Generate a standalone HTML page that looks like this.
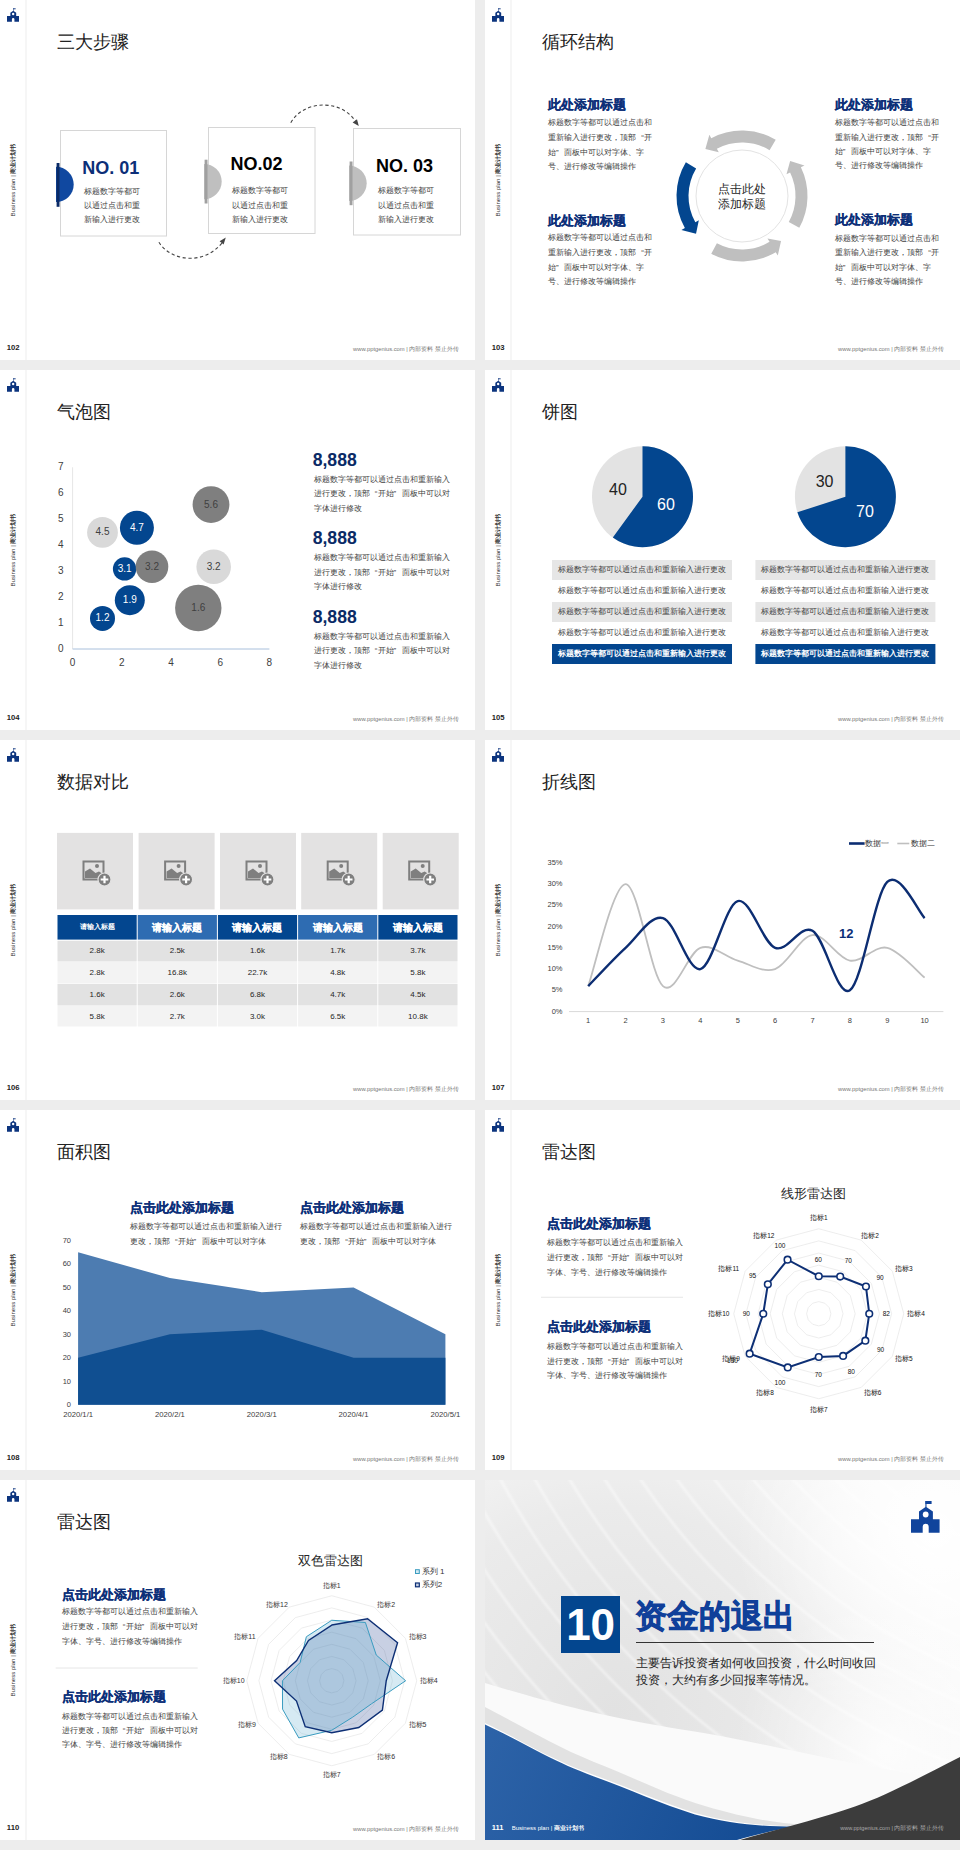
<!DOCTYPE html><html><head><meta charset="utf-8"><style>
*{margin:0;padding:0;box-sizing:border-box}
html,body{width:960px;height:1850px;background:#ededed;overflow:hidden;font-family:'Liberation Sans', sans-serif}
.slide{position:absolute;width:475px;height:360px;background:#fff;overflow:hidden}
.slide div{position:absolute;white-space:nowrap}
.vline{left:25px;top:0;width:1.5px;height:360px;background:#f6f6f6}
.vtext{left:13.3px;top:180.3px;font-size:6.1px;color:#333;transform:translate(-50%,-50%) rotate(-90deg);line-height:1}
.pnum{left:6.8px;top:343.3px;font-size:7.7px;font-weight:bold;color:#222;line-height:10px}
.foot{right:16px;top:344.8px;font-size:5.8px;color:#777;line-height:9px}
.title{left:57px;top:30px;font-size:18px;color:#222;line-height:24px}
</style></head><body><div class="slide" style="left:0px;top:0px"><div class="vline"></div><svg style="position:absolute;left:7px;top:8px" width="12" height="14" viewBox="0 0 28.6 31.7">
<g fill="#0c347e"><rect x="14.4" y="0" width="6.2" height="2.2"/><rect x="14.4" y="0" width="1.1" height="6.5"/>
<path d="M0 18.2H8V10.4L14.9 5.7 21.9 10.4V18.2H28.6V31.7H17.7V25.8A3 3 0 0 0 11.7 25.8V31.7H0Z"/></g>
<circle cx="14.7" cy="13.5" r="2.9" fill="#fff"/></svg><div class="vtext">Business plan | <b>商业计划书</b></div><div class="pnum">102</div><div class="foot">www.pptgenius.com | 内部资料 禁止外传</div><div class="title">三大步骤</div><svg style="position:absolute;left:0;top:0" width="475" height="360"><rect x="60.5" y="130.5" width="106" height="105.5" fill="#fff" stroke="#d6d6d6" stroke-width="1"/><path d="M56.0 166.70000000000002A17.7 17.7 0 0 1 56.0 202.1Z" fill="#1048a0" transform="translate(0,0)"/><rect x="56.6" y="163" width="2.9" height="43.80000000000001" fill="#0a2a66"/><rect x="208.5" y="127.5" width="106.5" height="106" fill="#fff" stroke="#d6d6d6" stroke-width="1"/><path d="M204.0 163.9A17.7 17.7 0 0 1 204.0 199.29999999999998Z" fill="#bfbfbf" transform="translate(0,0)"/><rect x="204.6" y="159.7" width="2.9" height="43.80000000000001" fill="#a0a0a0"/><rect x="353.5" y="128.5" width="107" height="106.5" fill="#fff" stroke="#d6d6d6" stroke-width="1"/><path d="M349.0 165.60000000000002A17.7 17.7 0 0 1 349.0 201.0Z" fill="#bfbfbf" transform="translate(0,0)"/><rect x="349.6" y="161.5" width="2.9" height="43.69999999999999" fill="#a0a0a0"/><path d="M158.9 242.3 C165 252 177 258.3 190.3 258.3 C203 258.3 214 252.5 222 243" fill="none" stroke="#444" stroke-width="1.1" stroke-dasharray="3.2 2.6"/><path d="M225.8 237.6 L219.6 241.2 L223.6 244.6Z" fill="#444"/><path d="M290.8 122.7 C298 110 312 104.6 325 105.1 C339 105.6 349 112 355.5 121" fill="none" stroke="#444" stroke-width="1.1" stroke-dasharray="3.2 2.6"/><path d="M358.8 126 L352.6 122.6 L357 119.2Z" fill="#444"/></svg><div style="left:82.3px;top:157.6px;font-size:18px;line-height:20px;font-weight:bold;color:#0c2f78">NO. 01</div><div style="left:83.5px;top:185.6px;font-size:8px;line-height:12px;color:#404040">标题数字等都可</div><div style="left:83.5px;top:200.0px;font-size:8px;line-height:12px;color:#404040">以通过点击和重</div><div style="left:83.5px;top:214.2px;font-size:8px;line-height:12px;color:#404040">新输入进行更改</div><div style="left:230.4px;top:154.29999999999998px;font-size:18px;line-height:20px;font-weight:bold;color:#000">NO.02</div><div style="left:232px;top:184.9px;font-size:8px;line-height:12px;color:#404040">标题数字等都可</div><div style="left:232px;top:199.79999999999998px;font-size:8px;line-height:12px;color:#404040">以通过点击和重</div><div style="left:232px;top:214.1px;font-size:8px;line-height:12px;color:#404040">新输入进行更改</div><div style="left:376px;top:155.6px;font-size:18px;line-height:20px;font-weight:bold;color:#000">NO. 03</div><div style="left:377.8px;top:184.9px;font-size:8px;line-height:12px;color:#404040">标题数字等都可</div><div style="left:377.8px;top:199.79999999999998px;font-size:8px;line-height:12px;color:#404040">以通过点击和重</div><div style="left:377.8px;top:214.1px;font-size:8px;line-height:12px;color:#404040">新输入进行更改</div></div><div class="slide" style="left:485px;top:0px"><div class="vline"></div><svg style="position:absolute;left:7px;top:8px" width="12" height="14" viewBox="0 0 28.6 31.7">
<g fill="#0c347e"><rect x="14.4" y="0" width="6.2" height="2.2"/><rect x="14.4" y="0" width="1.1" height="6.5"/>
<path d="M0 18.2H8V10.4L14.9 5.7 21.9 10.4V18.2H28.6V31.7H17.7V25.8A3 3 0 0 0 11.7 25.8V31.7H0Z"/></g>
<circle cx="14.7" cy="13.5" r="2.9" fill="#fff"/></svg><div class="vtext">Business plan | <b>商业计划书</b></div><div class="pnum">103</div><div class="foot">www.pptgenius.com | 内部资料 禁止外传</div><div class="title">循环结构</div><svg style="position:absolute;left:0;top:0" width="475" height="360"><circle cx="257" cy="196" r="46" fill="#fff" stroke="#e3e3e3" stroke-width="1"/><path d="M290.73 139.86A65.5 65.5 0 0 0 226.25 138.17L224.37 134.64L220.37 149.11L233.76 152.29L231.88 148.76A53.5 53.5 0 0 1 284.55 150.14Z" fill="#bfbfbf"/><path d="M200.86 162.27A65.5 65.5 0 0 0 199.88 228.05L196.39 230.01L211.02 233.77L213.83 220.22L210.34 222.18A53.5 53.5 0 0 1 211.14 168.45Z" fill="#03468f"/><path d="M226.25 253.83A65.5 65.5 0 0 0 290.73 252.14L292.80 255.57L296.04 240.91L282.49 238.43L284.55 241.86A53.5 53.5 0 0 1 231.88 243.24Z" fill="#bfbfbf"/><path d="M314.29 227.76A65.5 65.5 0 0 0 315.87 167.29L319.47 165.53L305.14 161.03L301.49 174.30L305.09 172.55A53.5 53.5 0 0 1 303.79 221.94Z" fill="#bfbfbf"/></svg><div style="left:227px;top:181px;width:60px;text-align:center;font-size:12px;line-height:16px;color:#262626">点击此处</div><div style="left:227px;top:196.4px;width:60px;text-align:center;font-size:12px;line-height:16px;color:#262626">添加标题</div><div style="left:63px;top:96.2px;font-size:13px;line-height:18px;font-weight:bold;color:#0c2f78;-webkit-text-stroke:0.2px #0c2f78">此处添加标题</div><div style="left:63px;top:116.89999999999999px;font-size:8px;line-height:12px;color:#404040;">标题数字等都可以通过点击和</div><div style="left:63px;top:131.9px;font-size:8px;line-height:12px;color:#404040;">重新输入进行更改，顶部<span style="display:inline-block;width:1em;text-align:right">“</span>开</div><div style="left:63px;top:146.7px;font-size:8px;line-height:12px;color:#404040;">始<span style="display:inline-block;width:1em;text-align:left">”</span>面板中可以对字体、字</div><div style="left:63px;top:161.1px;font-size:8px;line-height:12px;color:#404040;">号、进行修改等编辑操作</div><div style="left:63px;top:211.60000000000002px;font-size:13px;line-height:18px;font-weight:bold;color:#0c2f78;-webkit-text-stroke:0.2px #0c2f78">此处添加标题</div><div style="left:63px;top:232.4px;font-size:8px;line-height:12px;color:#404040;">标题数字等都可以通过点击和</div><div style="left:63px;top:246.79999999999998px;font-size:8px;line-height:12px;color:#404040;">重新输入进行更改，顶部<span style="display:inline-block;width:1em;text-align:right">“</span>开</div><div style="left:63px;top:261.5px;font-size:8px;line-height:12px;color:#404040;">始<span style="display:inline-block;width:1em;text-align:left">”</span>面板中可以对字体、字</div><div style="left:63px;top:276.0px;font-size:8px;line-height:12px;color:#404040;">号、进行修改等编辑操作</div><div style="left:349.8px;top:96.0px;font-size:13px;line-height:18px;font-weight:bold;color:#0c2f78;-webkit-text-stroke:0.2px #0c2f78">此处添加标题</div><div style="left:349.8px;top:116.8px;font-size:8px;line-height:12px;color:#404040;">标题数字等都可以通过点击和</div><div style="left:349.8px;top:131.5px;font-size:8px;line-height:12px;color:#404040;">重新输入进行更改，顶部<span style="display:inline-block;width:1em;text-align:right">“</span>开</div><div style="left:349.8px;top:145.9px;font-size:8px;line-height:12px;color:#404040;">始<span style="display:inline-block;width:1em;text-align:left">”</span>面板中可以对字体、字</div><div style="left:349.8px;top:160.29999999999998px;font-size:8px;line-height:12px;color:#404040;">号、进行修改等编辑操作</div><div style="left:349.8px;top:211.20000000000002px;font-size:13px;line-height:18px;font-weight:bold;color:#0c2f78;-webkit-text-stroke:0.2px #0c2f78">此处添加标题</div><div style="left:349.8px;top:232.6px;font-size:8px;line-height:12px;color:#404040;">标题数字等都可以通过点击和</div><div style="left:349.8px;top:247.1px;font-size:8px;line-height:12px;color:#404040;">重新输入进行更改，顶部<span style="display:inline-block;width:1em;text-align:right">“</span>开</div><div style="left:349.8px;top:261.70000000000005px;font-size:8px;line-height:12px;color:#404040;">始<span style="display:inline-block;width:1em;text-align:left">”</span>面板中可以对字体、字</div><div style="left:349.8px;top:276.0px;font-size:8px;line-height:12px;color:#404040;">号、进行修改等编辑操作</div></div><div class="slide" style="left:0px;top:370px"><div class="vline"></div><svg style="position:absolute;left:7px;top:8px" width="12" height="14" viewBox="0 0 28.6 31.7">
<g fill="#0c347e"><rect x="14.4" y="0" width="6.2" height="2.2"/><rect x="14.4" y="0" width="1.1" height="6.5"/>
<path d="M0 18.2H8V10.4L14.9 5.7 21.9 10.4V18.2H28.6V31.7H17.7V25.8A3 3 0 0 0 11.7 25.8V31.7H0Z"/></g>
<circle cx="14.7" cy="13.5" r="2.9" fill="#fff"/></svg><div class="vtext">Business plan | <b>商业计划书</b></div><div class="pnum">104</div><div class="foot">www.pptgenius.com | 内部资料 禁止外传</div><div class="title">气泡图</div><svg style="position:absolute;left:0;top:0" width="475" height="360"><line x1="72.6" y1="97.28" x2="72.6" y2="279" stroke="#e6e6e6" stroke-width="1"/><line x1="72.6" y1="279" x2="269.4" y2="279" stroke="#a9c0dc" stroke-width="1"/><circle cx="102.5" cy="248.4" r="12.5" fill="#03468f"/><circle cx="129.8" cy="230.2" r="15" fill="#03468f"/><circle cx="124.6" cy="198.9" r="11.7" fill="#03468f"/><circle cx="136.9" cy="157.8" r="17" fill="#03468f"/><circle cx="152" cy="196.8" r="16.3" fill="#7f7f7f"/><circle cx="211" cy="134.6" r="18.4" fill="#7f7f7f"/><circle cx="198.3" cy="238" r="23.2" fill="#7f7f7f"/><circle cx="102.5" cy="162.4" r="15.4" fill="#d9d9d9"/><circle cx="213.7" cy="196.8" r="17.3" fill="#d9d9d9"/></svg><div style="left:87.5px;top:242.4px;width:30px;text-align:center;font-size:10px;line-height:12px;color:#fff;">1.2</div><div style="left:114.80000000000001px;top:224.2px;width:30px;text-align:center;font-size:10px;line-height:12px;color:#fff;">1.9</div><div style="left:109.6px;top:192.9px;width:30px;text-align:center;font-size:10px;line-height:12px;color:#fff;">3.1</div><div style="left:121.9px;top:151.8px;width:30px;text-align:center;font-size:10px;line-height:12px;color:#fff;">4.7</div><div style="left:137.0px;top:190.8px;width:30px;text-align:center;font-size:10px;line-height:12px;color:#404040;">3.2</div><div style="left:196.0px;top:128.6px;width:30px;text-align:center;font-size:10px;line-height:12px;color:#404040;">5.6</div><div style="left:183.3px;top:232.0px;width:30px;text-align:center;font-size:10px;line-height:12px;color:#404040;">1.6</div><div style="left:87.5px;top:156.4px;width:30px;text-align:center;font-size:10px;line-height:12px;color:#404040;">4.5</div><div style="left:198.7px;top:190.8px;width:30px;text-align:center;font-size:10px;line-height:12px;color:#404040;">3.2</div><div style="left:53.8px;top:273.0px;width:14px;text-align:center;font-size:10px;line-height:12px;color:#404040;">0</div><div style="left:53.8px;top:247.04px;width:14px;text-align:center;font-size:10px;line-height:12px;color:#404040;">1</div><div style="left:53.8px;top:221.07999999999998px;width:14px;text-align:center;font-size:10px;line-height:12px;color:#404040;">2</div><div style="left:53.8px;top:195.12px;width:14px;text-align:center;font-size:10px;line-height:12px;color:#404040;">3</div><div style="left:53.8px;top:169.16px;width:14px;text-align:center;font-size:10px;line-height:12px;color:#404040;">4</div><div style="left:53.8px;top:143.2px;width:14px;text-align:center;font-size:10px;line-height:12px;color:#404040;">5</div><div style="left:53.8px;top:117.24000000000001px;width:14px;text-align:center;font-size:10px;line-height:12px;color:#404040;">6</div><div style="left:53.8px;top:91.28px;width:14px;text-align:center;font-size:10px;line-height:12px;color:#404040;">7</div><div style="left:65.6px;top:286.7px;width:14px;text-align:center;font-size:10px;line-height:12px;color:#404040;">0</div><div style="left:114.8px;top:286.7px;width:14px;text-align:center;font-size:10px;line-height:12px;color:#404040;">2</div><div style="left:164.0px;top:286.7px;width:14px;text-align:center;font-size:10px;line-height:12px;color:#404040;">4</div><div style="left:213.20000000000002px;top:286.7px;width:14px;text-align:center;font-size:10px;line-height:12px;color:#404040;">6</div><div style="left:262.4px;top:286.7px;width:14px;text-align:center;font-size:10px;line-height:12px;color:#404040;">8</div><div style="left:312.7px;top:79.8px;font-size:17.6px;line-height:20px;font-weight:bold;color:#0a2a66">8,888</div><div style="left:313.5px;top:103.8px;font-size:8px;line-height:12px;color:#404040;">标题数字等都可以通过点击和重新输入</div><div style="left:313.5px;top:118.39999999999999px;font-size:8px;line-height:12px;color:#404040;">进行更改，顶部<span style="display:inline-block;width:1em;text-align:right">“</span>开始<span style="display:inline-block;width:1em;text-align:left">”</span>面板中可以对</div><div style="left:313.5px;top:133.0px;font-size:8px;line-height:12px;color:#404040;">字体进行修改</div><div style="left:312.7px;top:158.2px;font-size:17.6px;line-height:20px;font-weight:bold;color:#0a2a66">8,888</div><div style="left:313.5px;top:182.20000000000002px;font-size:8px;line-height:12px;color:#404040;">标题数字等都可以通过点击和重新输入</div><div style="left:313.5px;top:196.79999999999998px;font-size:8px;line-height:12px;color:#404040;">进行更改，顶部<span style="display:inline-block;width:1em;text-align:right">“</span>开始<span style="display:inline-block;width:1em;text-align:left">”</span>面板中可以对</div><div style="left:313.5px;top:211.4px;font-size:8px;line-height:12px;color:#404040;">字体进行修改</div><div style="left:312.7px;top:236.6px;font-size:17.6px;line-height:20px;font-weight:bold;color:#0a2a66">8,888</div><div style="left:313.5px;top:260.6px;font-size:8px;line-height:12px;color:#404040;">标题数字等都可以通过点击和重新输入</div><div style="left:313.5px;top:275.20000000000005px;font-size:8px;line-height:12px;color:#404040;">进行更改，顶部<span style="display:inline-block;width:1em;text-align:right">“</span>开始<span style="display:inline-block;width:1em;text-align:left">”</span>面板中可以对</div><div style="left:313.5px;top:289.80000000000007px;font-size:8px;line-height:12px;color:#404040;">字体进行修改</div></div><div class="slide" style="left:485px;top:370px"><div class="vline"></div><svg style="position:absolute;left:7px;top:8px" width="12" height="14" viewBox="0 0 28.6 31.7">
<g fill="#0c347e"><rect x="14.4" y="0" width="6.2" height="2.2"/><rect x="14.4" y="0" width="1.1" height="6.5"/>
<path d="M0 18.2H8V10.4L14.9 5.7 21.9 10.4V18.2H28.6V31.7H17.7V25.8A3 3 0 0 0 11.7 25.8V31.7H0Z"/></g>
<circle cx="14.7" cy="13.5" r="2.9" fill="#fff"/></svg><div class="vtext">Business plan | <b>商业计划书</b></div><div class="pnum">105</div><div class="foot">www.pptgenius.com | 内部资料 禁止外传</div><div class="title">饼图</div><svg style="position:absolute;left:0;top:0" width="475" height="360"><circle cx="157.5" cy="126.7" r="50.5" fill="#e3e3e3"/><path d="M157.5 126.7L157.5 76.2A50.5 50.5 0 1 1 127.82 167.56Z" fill="#03468f"/><circle cx="360.4" cy="126.7" r="50.5" fill="#e3e3e3"/><path d="M360.4 126.7L360.4 76.2A50.5 50.5 0 1 1 312.37 142.31Z" fill="#03468f"/><rect x="67" y="190" width="180" height="20" fill="#e6e6e6"/><rect x="67" y="232" width="180" height="20" fill="#e6e6e6"/><rect x="67" y="274" width="180" height="20" fill="#03468f"/><rect x="270.4" y="190" width="180" height="20" fill="#e6e6e6"/><rect x="270.4" y="232" width="180" height="20" fill="#e6e6e6"/><rect x="270.4" y="274" width="180" height="20" fill="#03468f"/></svg><div style="left:113.0px;top:110.6px;width:40px;text-align:center;font-size:16px;line-height:18px;color:#222;">40</div><div style="left:161.0px;top:126.0px;width:40px;text-align:center;font-size:16px;line-height:18px;color:#fff;">60</div><div style="left:319.6px;top:103.0px;width:40px;text-align:center;font-size:16px;line-height:18px;color:#222;">30</div><div style="left:360.0px;top:133.0px;width:40px;text-align:center;font-size:16px;line-height:18px;color:#fff;">70</div><div style="left:67.0px;top:194.0px;width:180px;text-align:center;font-size:8px;line-height:12px;color:#404040;">标题数字等都可以通过点击和重新输入进行更改</div><div style="left:67.0px;top:215.0px;width:180px;text-align:center;font-size:8px;line-height:12px;color:#404040;">标题数字等都可以通过点击和重新输入进行更改</div><div style="left:67.0px;top:236.0px;width:180px;text-align:center;font-size:8px;line-height:12px;color:#404040;">标题数字等都可以通过点击和重新输入进行更改</div><div style="left:67.0px;top:257.0px;width:180px;text-align:center;font-size:8px;line-height:12px;color:#404040;">标题数字等都可以通过点击和重新输入进行更改</div><div style="left:67.0px;top:278.0px;width:180px;text-align:center;font-size:8px;line-height:12px;color:#fff;font-weight:bold;">标题数字等都可以通过点击和重新输入进行更改</div><div style="left:270.4px;top:194.0px;width:180px;text-align:center;font-size:8px;line-height:12px;color:#404040;">标题数字等都可以通过点击和重新输入进行更改</div><div style="left:270.4px;top:215.0px;width:180px;text-align:center;font-size:8px;line-height:12px;color:#404040;">标题数字等都可以通过点击和重新输入进行更改</div><div style="left:270.4px;top:236.0px;width:180px;text-align:center;font-size:8px;line-height:12px;color:#404040;">标题数字等都可以通过点击和重新输入进行更改</div><div style="left:270.4px;top:257.0px;width:180px;text-align:center;font-size:8px;line-height:12px;color:#404040;">标题数字等都可以通过点击和重新输入进行更改</div><div style="left:270.4px;top:278.0px;width:180px;text-align:center;font-size:8px;line-height:12px;color:#fff;font-weight:bold;">标题数字等都可以通过点击和重新输入进行更改</div></div><div class="slide" style="left:0px;top:740px"><div class="vline"></div><svg style="position:absolute;left:7px;top:8px" width="12" height="14" viewBox="0 0 28.6 31.7">
<g fill="#0c347e"><rect x="14.4" y="0" width="6.2" height="2.2"/><rect x="14.4" y="0" width="1.1" height="6.5"/>
<path d="M0 18.2H8V10.4L14.9 5.7 21.9 10.4V18.2H28.6V31.7H17.7V25.8A3 3 0 0 0 11.7 25.8V31.7H0Z"/></g>
<circle cx="14.7" cy="13.5" r="2.9" fill="#fff"/></svg><div class="vtext">Business plan | <b>商业计划书</b></div><div class="pnum">106</div><div class="foot">www.pptgenius.com | 内部资料 禁止外传</div><div class="title">数据对比</div><svg style="position:absolute;left:0;top:0" width="475" height="360"><rect x="57" y="92.9" width="76" height="76.5" fill="#e3e2e2"/><g transform="translate(82.5,120.5)" fill="#7f7f7f">
<path d="M0 0H22V20H0Z M2 2V18H20V2Z" fill-rule="evenodd"/>
<circle cx="14.5" cy="5.5" r="2"/>
<path d="M2.5 17.5V11L7.5 8 13 12.5 16.5 11 19.5 13V17.5Z"/>
<circle cx="22" cy="19" r="6.5" fill="#7f7f7f" stroke="#e3e2e2" stroke-width="1.2"/>
<path d="M22 15.2V22.8M18.2 19H25.8" stroke="#fff" stroke-width="2.2"/>
</g><rect x="138.6" y="92.9" width="76" height="76.5" fill="#e3e2e2"/><g transform="translate(164.1,120.5)" fill="#7f7f7f">
<path d="M0 0H22V20H0Z M2 2V18H20V2Z" fill-rule="evenodd"/>
<circle cx="14.5" cy="5.5" r="2"/>
<path d="M2.5 17.5V11L7.5 8 13 12.5 16.5 11 19.5 13V17.5Z"/>
<circle cx="22" cy="19" r="6.5" fill="#7f7f7f" stroke="#e3e2e2" stroke-width="1.2"/>
<path d="M22 15.2V22.8M18.2 19H25.8" stroke="#fff" stroke-width="2.2"/>
</g><rect x="220" y="92.9" width="76" height="76.5" fill="#e3e2e2"/><g transform="translate(245.5,120.5)" fill="#7f7f7f">
<path d="M0 0H22V20H0Z M2 2V18H20V2Z" fill-rule="evenodd"/>
<circle cx="14.5" cy="5.5" r="2"/>
<path d="M2.5 17.5V11L7.5 8 13 12.5 16.5 11 19.5 13V17.5Z"/>
<circle cx="22" cy="19" r="6.5" fill="#7f7f7f" stroke="#e3e2e2" stroke-width="1.2"/>
<path d="M22 15.2V22.8M18.2 19H25.8" stroke="#fff" stroke-width="2.2"/>
</g><rect x="301.2" y="92.9" width="76" height="76.5" fill="#e3e2e2"/><g transform="translate(326.7,120.5)" fill="#7f7f7f">
<path d="M0 0H22V20H0Z M2 2V18H20V2Z" fill-rule="evenodd"/>
<circle cx="14.5" cy="5.5" r="2"/>
<path d="M2.5 17.5V11L7.5 8 13 12.5 16.5 11 19.5 13V17.5Z"/>
<circle cx="22" cy="19" r="6.5" fill="#7f7f7f" stroke="#e3e2e2" stroke-width="1.2"/>
<path d="M22 15.2V22.8M18.2 19H25.8" stroke="#fff" stroke-width="2.2"/>
</g><rect x="382.7" y="92.9" width="76" height="76.5" fill="#e3e2e2"/><g transform="translate(408.2,120.5)" fill="#7f7f7f">
<path d="M0 0H22V20H0Z M2 2V18H20V2Z" fill-rule="evenodd"/>
<circle cx="14.5" cy="5.5" r="2"/>
<path d="M2.5 17.5V11L7.5 8 13 12.5 16.5 11 19.5 13V17.5Z"/>
<circle cx="22" cy="19" r="6.5" fill="#7f7f7f" stroke="#e3e2e2" stroke-width="1.2"/>
<path d="M22 15.2V22.8M18.2 19H25.8" stroke="#fff" stroke-width="2.2"/>
</g><rect x="57.5" y="175" width="79.2" height="24.6" fill="#03468f"/><rect x="137.7" y="175" width="79.2" height="24.6" fill="#2e6cb2"/><rect x="217.9" y="175" width="79.2" height="24.6" fill="#03468f"/><rect x="298.1" y="175" width="79.2" height="24.6" fill="#2e6cb2"/><rect x="378.3" y="175" width="79.2" height="24.6" fill="#03468f"/><rect x="57.5" y="200.8" width="79.2" height="20.69999999999999" fill="#e2e2e2"/><rect x="137.7" y="200.8" width="79.2" height="20.69999999999999" fill="#e2e2e2"/><rect x="217.9" y="200.8" width="79.2" height="20.69999999999999" fill="#e2e2e2"/><rect x="298.1" y="200.8" width="79.2" height="20.69999999999999" fill="#e2e2e2"/><rect x="378.3" y="200.8" width="79.2" height="20.69999999999999" fill="#e2e2e2"/><rect x="57.5" y="222" width="79.2" height="21.5" fill="#f3f3f3"/><rect x="137.7" y="222" width="79.2" height="21.5" fill="#f3f3f3"/><rect x="217.9" y="222" width="79.2" height="21.5" fill="#f3f3f3"/><rect x="298.1" y="222" width="79.2" height="21.5" fill="#f3f3f3"/><rect x="378.3" y="222" width="79.2" height="21.5" fill="#f3f3f3"/><rect x="57.5" y="244" width="79.2" height="21.5" fill="#e2e2e2"/><rect x="137.7" y="244" width="79.2" height="21.5" fill="#e2e2e2"/><rect x="217.9" y="244" width="79.2" height="21.5" fill="#e2e2e2"/><rect x="298.1" y="244" width="79.2" height="21.5" fill="#e2e2e2"/><rect x="378.3" y="244" width="79.2" height="21.5" fill="#e2e2e2"/><rect x="57.5" y="266" width="79.2" height="20.5" fill="#f3f3f3"/><rect x="137.7" y="266" width="79.2" height="20.5" fill="#f3f3f3"/><rect x="217.9" y="266" width="79.2" height="20.5" fill="#f3f3f3"/><rect x="298.1" y="266" width="79.2" height="20.5" fill="#f3f3f3"/><rect x="378.3" y="266" width="79.2" height="20.5" fill="#f3f3f3"/></svg><div style="left:56.99999999999999px;top:182.3px;width:80.2px;text-align:center;font-size:7px;line-height:10px;color:#fff;font-weight:bold;">请输入标题</div><div style="left:137.2px;top:180.8px;width:80.2px;text-align:center;font-size:9.8px;line-height:14px;color:#fff;font-weight:bold;-webkit-text-stroke:0.15px #fff">请输入标题</div><div style="left:217.4px;top:180.8px;width:80.2px;text-align:center;font-size:9.8px;line-height:14px;color:#fff;font-weight:bold;-webkit-text-stroke:0.15px #fff">请输入标题</div><div style="left:297.6px;top:180.8px;width:80.2px;text-align:center;font-size:9.8px;line-height:14px;color:#fff;font-weight:bold;-webkit-text-stroke:0.15px #fff">请输入标题</div><div style="left:377.8px;top:180.8px;width:80.2px;text-align:center;font-size:9.8px;line-height:14px;color:#fff;font-weight:bold;-webkit-text-stroke:0.15px #fff">请输入标题</div><div style="left:56.99999999999999px;top:206.4px;width:80.2px;text-align:center;font-size:8px;line-height:10px;color:#262626;">2.8k</div><div style="left:137.2px;top:206.4px;width:80.2px;text-align:center;font-size:8px;line-height:10px;color:#262626;">2.5k</div><div style="left:217.4px;top:206.4px;width:80.2px;text-align:center;font-size:8px;line-height:10px;color:#262626;">1.6k</div><div style="left:297.6px;top:206.4px;width:80.2px;text-align:center;font-size:8px;line-height:10px;color:#262626;">1.7k</div><div style="left:377.8px;top:206.4px;width:80.2px;text-align:center;font-size:8px;line-height:10px;color:#262626;">3.7k</div><div style="left:56.99999999999999px;top:228.0px;width:80.2px;text-align:center;font-size:8px;line-height:10px;color:#262626;">2.8k</div><div style="left:137.2px;top:228.0px;width:80.2px;text-align:center;font-size:8px;line-height:10px;color:#262626;">16.8k</div><div style="left:217.4px;top:228.0px;width:80.2px;text-align:center;font-size:8px;line-height:10px;color:#262626;">22.7k</div><div style="left:297.6px;top:228.0px;width:80.2px;text-align:center;font-size:8px;line-height:10px;color:#262626;">4.8k</div><div style="left:377.8px;top:228.0px;width:80.2px;text-align:center;font-size:8px;line-height:10px;color:#262626;">5.8k</div><div style="left:56.99999999999999px;top:250.0px;width:80.2px;text-align:center;font-size:8px;line-height:10px;color:#262626;">1.6k</div><div style="left:137.2px;top:250.0px;width:80.2px;text-align:center;font-size:8px;line-height:10px;color:#262626;">2.6k</div><div style="left:217.4px;top:250.0px;width:80.2px;text-align:center;font-size:8px;line-height:10px;color:#262626;">6.8k</div><div style="left:297.6px;top:250.0px;width:80.2px;text-align:center;font-size:8px;line-height:10px;color:#262626;">4.7k</div><div style="left:377.8px;top:250.0px;width:80.2px;text-align:center;font-size:8px;line-height:10px;color:#262626;">4.5k</div><div style="left:56.99999999999999px;top:271.5px;width:80.2px;text-align:center;font-size:8px;line-height:10px;color:#262626;">5.8k</div><div style="left:137.2px;top:271.5px;width:80.2px;text-align:center;font-size:8px;line-height:10px;color:#262626;">2.7k</div><div style="left:217.4px;top:271.5px;width:80.2px;text-align:center;font-size:8px;line-height:10px;color:#262626;">3.0k</div><div style="left:297.6px;top:271.5px;width:80.2px;text-align:center;font-size:8px;line-height:10px;color:#262626;">6.5k</div><div style="left:377.8px;top:271.5px;width:80.2px;text-align:center;font-size:8px;line-height:10px;color:#262626;">10.8k</div></div><div class="slide" style="left:485px;top:740px"><div class="vline"></div><svg style="position:absolute;left:7px;top:8px" width="12" height="14" viewBox="0 0 28.6 31.7">
<g fill="#0c347e"><rect x="14.4" y="0" width="6.2" height="2.2"/><rect x="14.4" y="0" width="1.1" height="6.5"/>
<path d="M0 18.2H8V10.4L14.9 5.7 21.9 10.4V18.2H28.6V31.7H17.7V25.8A3 3 0 0 0 11.7 25.8V31.7H0Z"/></g>
<circle cx="14.7" cy="13.5" r="2.9" fill="#fff"/></svg><div class="vtext">Business plan | <b>商业计划书</b></div><div class="pnum">107</div><div class="foot">www.pptgenius.com | 内部资料 禁止外传</div><div class="title">折线图</div><svg style="position:absolute;left:0;top:0" width="475" height="360"><line x1="84" y1="271.6" x2="458.4" y2="271.6" stroke="#d9d9d9" stroke-width="1"/><path d="M103.20 246.09C109.43 229.08 128.12 144.04 140.58 144.04C153.04 144.04 165.50 235.46 177.96 246.09C190.42 256.72 202.88 212.07 215.34 207.82C227.80 203.57 240.26 217.03 252.72 220.58C265.18 224.12 277.64 233.33 290.10 229.08C302.56 224.83 315.02 196.48 327.48 195.06C339.94 193.65 352.40 218.45 364.86 220.58C377.32 222.70 389.78 204.99 402.24 207.82C414.70 210.65 433.39 232.62 439.62 237.58" fill="none" stroke="#bfbfbf" stroke-width="1.8"/><path d="M103.20 246.09C109.43 239.71 128.12 219.16 140.58 207.82C153.04 196.48 165.50 174.51 177.96 178.06C190.42 181.60 202.88 231.91 215.34 229.08C227.80 226.25 240.26 164.59 252.72 161.05C265.18 157.50 277.64 202.86 290.10 207.82C302.56 212.78 315.02 183.73 327.48 190.81C339.94 197.90 352.40 258.49 364.86 250.34C377.32 242.19 389.78 153.96 402.24 141.91C414.70 129.87 433.39 172.03 439.62 178.06" fill="none" stroke="#0c2d72" stroke-width="2.4"/><line x1="364" y1="103.5" x2="379.6" y2="103.5" stroke="#0c2d72" stroke-width="2.6"/><line x1="412.3" y1="103.5" x2="424.3" y2="103.5" stroke="#bfbfbf" stroke-width="1.6"/></svg><div style="left:380.2px;top:98.5px;font-size:8px;line-height:10px;color:#333">数据一</div><div style="left:426px;top:98.5px;font-size:8px;line-height:10px;color:#333">数据二</div><div style="left:40px;width:37.5px;text-align:right;top:266.6px;font-size:7.5px;line-height:10px;color:#404040">0%</div><div style="left:40px;width:37.5px;text-align:right;top:245.34000000000003px;font-size:7.5px;line-height:10px;color:#404040">5%</div><div style="left:40px;width:37.5px;text-align:right;top:224.08px;font-size:7.5px;line-height:10px;color:#404040">10%</div><div style="left:40px;width:37.5px;text-align:right;top:202.82000000000002px;font-size:7.5px;line-height:10px;color:#404040">15%</div><div style="left:40px;width:37.5px;text-align:right;top:181.56px;font-size:7.5px;line-height:10px;color:#404040">20%</div><div style="left:40px;width:37.5px;text-align:right;top:160.3px;font-size:7.5px;line-height:10px;color:#404040">25%</div><div style="left:40px;width:37.5px;text-align:right;top:139.04000000000002px;font-size:7.5px;line-height:10px;color:#404040">30%</div><div style="left:40px;width:37.5px;text-align:right;top:117.78px;font-size:7.5px;line-height:10px;color:#404040">35%</div><div style="left:93.2px;top:276.2px;width:20px;text-align:center;font-size:7.5px;line-height:10px;color:#404040;">1</div><div style="left:130.58px;top:276.2px;width:20px;text-align:center;font-size:7.5px;line-height:10px;color:#404040;">2</div><div style="left:167.96px;top:276.2px;width:20px;text-align:center;font-size:7.5px;line-height:10px;color:#404040;">3</div><div style="left:205.34000000000003px;top:276.2px;width:20px;text-align:center;font-size:7.5px;line-height:10px;color:#404040;">4</div><div style="left:242.72000000000003px;top:276.2px;width:20px;text-align:center;font-size:7.5px;line-height:10px;color:#404040;">5</div><div style="left:280.1px;top:276.2px;width:20px;text-align:center;font-size:7.5px;line-height:10px;color:#404040;">6</div><div style="left:317.48px;top:276.2px;width:20px;text-align:center;font-size:7.5px;line-height:10px;color:#404040;">7</div><div style="left:354.86px;top:276.2px;width:20px;text-align:center;font-size:7.5px;line-height:10px;color:#404040;">8</div><div style="left:392.24px;top:276.2px;width:20px;text-align:center;font-size:7.5px;line-height:10px;color:#404040;">9</div><div style="left:429.62px;top:276.2px;width:20px;text-align:center;font-size:7.5px;line-height:10px;color:#404040;">10</div><div style="left:346.3px;top:185.7px;width:30px;text-align:center;font-size:13px;line-height:16px;color:#0c2f78;font-weight:bold;">12</div></div><div class="slide" style="left:0px;top:1110px"><div class="vline"></div><svg style="position:absolute;left:7px;top:8px" width="12" height="14" viewBox="0 0 28.6 31.7">
<g fill="#0c347e"><rect x="14.4" y="0" width="6.2" height="2.2"/><rect x="14.4" y="0" width="1.1" height="6.5"/>
<path d="M0 18.2H8V10.4L14.9 5.7 21.9 10.4V18.2H28.6V31.7H17.7V25.8A3 3 0 0 0 11.7 25.8V31.7H0Z"/></g>
<circle cx="14.7" cy="13.5" r="2.9" fill="#fff"/></svg><div class="vtext">Business plan | <b>商业计划书</b></div><div class="pnum">108</div><div class="foot">www.pptgenius.com | 内部资料 禁止外传</div><div class="title">面积图</div><svg style="position:absolute;left:0;top:0" width="475" height="360"><polygon points="78.1,294.75 78.10,142.26 169.92,168.07 261.75,182.14 353.57,177.45 445.40,224.37 445.4,294.75" fill="#4d7cb1"/><polygon points="78.1,294.75 78.10,247.83 169.92,224.37 261.75,219.68 353.57,247.83 445.40,247.83 445.4,294.75" fill="#104f91"/></svg><div style="left:40px;width:31px;text-align:right;top:290.15px;font-size:7.5px;line-height:10px;color:#404040">0</div><div style="left:40px;width:31px;text-align:right;top:266.69px;font-size:7.5px;line-height:10px;color:#404040">10</div><div style="left:40px;width:31px;text-align:right;top:243.23px;font-size:7.5px;line-height:10px;color:#404040">20</div><div style="left:40px;width:31px;text-align:right;top:219.77px;font-size:7.5px;line-height:10px;color:#404040">30</div><div style="left:40px;width:31px;text-align:right;top:196.31px;font-size:7.5px;line-height:10px;color:#404040">40</div><div style="left:40px;width:31px;text-align:right;top:172.85px;font-size:7.5px;line-height:10px;color:#404040">50</div><div style="left:40px;width:31px;text-align:right;top:149.39000000000001px;font-size:7.5px;line-height:10px;color:#404040">60</div><div style="left:40px;width:31px;text-align:right;top:125.93px;font-size:7.5px;line-height:10px;color:#404040">70</div><div style="left:58.099999999999994px;top:299.75px;width:40px;text-align:center;font-size:7.7px;line-height:10px;color:#404040;">2020/1/1</div><div style="left:149.92499999999998px;top:299.75px;width:40px;text-align:center;font-size:7.7px;line-height:10px;color:#404040;">2020/2/1</div><div style="left:241.75px;top:299.75px;width:40px;text-align:center;font-size:7.7px;line-height:10px;color:#404040;">2020/3/1</div><div style="left:333.57499999999993px;top:299.75px;width:40px;text-align:center;font-size:7.7px;line-height:10px;color:#404040;">2020/4/1</div><div style="left:425.4px;top:299.75px;width:40px;text-align:center;font-size:7.7px;line-height:10px;color:#404040;">2020/5/1</div><div style="left:129.6px;top:88.8px;font-size:13.3px;line-height:18px;font-weight:bold;color:#0c2f78;-webkit-text-stroke:0.2px #0c2f78">点击此处添加标题</div><div style="left:129.6px;top:110.6px;font-size:8px;line-height:12px;color:#404040;">标题数字等都可以通过点击和重新输入进行</div><div style="left:129.6px;top:126.0px;font-size:8px;line-height:12px;color:#404040;">更改，顶部<span style="display:inline-block;width:1em;text-align:right">“</span>开始<span style="display:inline-block;width:1em;text-align:left">”</span>面板中可以对字体</div><div style="left:299.8px;top:88.8px;font-size:13.3px;line-height:18px;font-weight:bold;color:#0c2f78;-webkit-text-stroke:0.2px #0c2f78">点击此处添加标题</div><div style="left:299.8px;top:110.6px;font-size:8px;line-height:12px;color:#404040;">标题数字等都可以通过点击和重新输入进行</div><div style="left:299.8px;top:126.0px;font-size:8px;line-height:12px;color:#404040;">更改，顶部<span style="display:inline-block;width:1em;text-align:right">“</span>开始<span style="display:inline-block;width:1em;text-align:left">”</span>面板中可以对字体</div></div><div class="slide" style="left:485px;top:1110px"><div class="vline"></div><svg style="position:absolute;left:7px;top:8px" width="12" height="14" viewBox="0 0 28.6 31.7">
<g fill="#0c347e"><rect x="14.4" y="0" width="6.2" height="2.2"/><rect x="14.4" y="0" width="1.1" height="6.5"/>
<path d="M0 18.2H8V10.4L14.9 5.7 21.9 10.4V18.2H28.6V31.7H17.7V25.8A3 3 0 0 0 11.7 25.8V31.7H0Z"/></g>
<circle cx="14.7" cy="13.5" r="2.9" fill="#fff"/></svg><div class="vtext">Business plan | <b>商业计划书</b></div><div class="pnum">109</div><div class="foot">www.pptgenius.com | 内部资料 禁止外传</div><div class="title">雷达图</div><svg style="position:absolute;left:0;top:0" width="475" height="360"><polygon points="333.75,191.61 339.82,193.23 344.27,197.68 345.89,203.75 344.27,209.82 339.82,214.27 333.75,215.89 327.68,214.27 323.23,209.82 321.61,203.75 323.23,197.68 327.68,193.23" fill="none" stroke="#e8e8e8" stroke-width="0.8"/><polygon points="333.75,179.46 345.89,182.72 354.78,191.61 358.04,203.75 354.78,215.89 345.89,224.78 333.75,228.04 321.61,224.78 312.72,215.89 309.46,203.75 312.72,191.61 321.61,182.72" fill="none" stroke="#e8e8e8" stroke-width="0.8"/><polygon points="333.75,167.32 351.96,172.20 365.30,185.54 370.18,203.75 365.30,221.96 351.96,235.30 333.75,240.18 315.54,235.30 302.20,221.96 297.32,203.75 302.20,185.54 315.54,172.20" fill="none" stroke="#e8e8e8" stroke-width="0.8"/><polygon points="333.75,155.18 358.04,161.69 375.81,179.46 382.32,203.75 375.81,228.04 358.04,245.81 333.75,252.32 309.46,245.81 291.69,228.04 285.18,203.75 291.69,179.46 309.46,161.69" fill="none" stroke="#e8e8e8" stroke-width="0.8"/><polygon points="333.75,143.04 364.11,151.17 386.33,173.39 394.46,203.75 386.33,234.11 364.11,256.33 333.75,264.46 303.39,256.33 281.17,234.11 273.04,203.75 281.17,173.39 303.39,151.17" fill="none" stroke="#e8e8e8" stroke-width="0.8"/><polygon points="333.75,130.89 370.18,140.65 396.85,167.32 406.61,203.75 396.85,240.18 370.18,266.85 333.75,276.61 297.32,266.85 270.65,240.18 260.89,203.75 270.65,167.32 297.32,140.65" fill="none" stroke="#e8e8e8" stroke-width="0.8"/><polygon points="333.75,118.75 376.25,130.14 407.36,161.25 418.75,203.75 407.36,246.25 376.25,277.36 333.75,288.75 291.25,277.36 260.14,246.25 248.75,203.75 260.14,161.25 291.25,130.14" fill="none" stroke="#e8e8e8" stroke-width="0.8"/><line x1="56" y1="187.25" x2="198" y2="187.25" stroke="#e6e6e6" stroke-width="1"/><polygon points="333.75,166.25 355.20,166.60 380.95,176.50 384.25,203.75 380.34,230.65 358.10,245.93 333.75,247.00 302.75,257.44 264.64,243.65 278.25,203.75 282.83,174.35 302.55,149.71" fill="none" stroke="#0d2f75" stroke-width="2"/><circle cx="333.75" cy="166.25" r="3.3" fill="#fff" stroke="#0d2f75" stroke-width="1.6"/><circle cx="355.20" cy="166.60" r="3.3" fill="#fff" stroke="#0d2f75" stroke-width="1.6"/><circle cx="380.95" cy="176.50" r="3.3" fill="#fff" stroke="#0d2f75" stroke-width="1.6"/><circle cx="384.25" cy="203.75" r="3.3" fill="#fff" stroke="#0d2f75" stroke-width="1.6"/><circle cx="380.34" cy="230.65" r="3.3" fill="#fff" stroke="#0d2f75" stroke-width="1.6"/><circle cx="358.10" cy="245.93" r="3.3" fill="#fff" stroke="#0d2f75" stroke-width="1.6"/><circle cx="333.75" cy="247.00" r="3.3" fill="#fff" stroke="#0d2f75" stroke-width="1.6"/><circle cx="302.75" cy="257.44" r="3.3" fill="#fff" stroke="#0d2f75" stroke-width="1.6"/><circle cx="264.64" cy="243.65" r="3.3" fill="#fff" stroke="#0d2f75" stroke-width="1.6"/><circle cx="278.25" cy="203.75" r="3.3" fill="#fff" stroke="#0d2f75" stroke-width="1.6"/><circle cx="282.83" cy="174.35" r="3.3" fill="#fff" stroke="#0d2f75" stroke-width="1.6"/><circle cx="302.55" cy="149.71" r="3.3" fill="#fff" stroke="#0d2f75" stroke-width="1.6"/></svg><div style="left:288.5px;top:76.4px;width:80px;text-align:center;font-size:13px;line-height:16px;color:#262626;">线形雷达图</div><div style="left:313.75px;top:104.0px;width:40px;text-align:center;font-size:6.5px;line-height:8px;color:#111;">指标1</div><div style="left:365.0px;top:122.0px;width:40px;text-align:center;font-size:6.5px;line-height:8px;color:#111;">指标2</div><div style="left:398.75px;top:154.75px;width:40px;text-align:center;font-size:6.5px;line-height:8px;color:#111;">指标3</div><div style="left:411.0px;top:199.75px;width:40px;text-align:center;font-size:6.5px;line-height:8px;color:#111;">指标4</div><div style="left:398.75px;top:244.75px;width:40px;text-align:center;font-size:6.5px;line-height:8px;color:#111;">指标5</div><div style="left:367.5px;top:278.5px;width:40px;text-align:center;font-size:6.5px;line-height:8px;color:#111;">指标6</div><div style="left:313.75px;top:296.0px;width:40px;text-align:center;font-size:6.5px;line-height:8px;color:#111;">指标7</div><div style="left:260.0px;top:278.5px;width:40px;text-align:center;font-size:6.5px;line-height:8px;color:#111;">指标8</div><div style="left:226.0px;top:244.75px;width:40px;text-align:center;font-size:6.5px;line-height:8px;color:#111;">指标9</div><div style="left:213.75px;top:199.75px;width:40px;text-align:center;font-size:6.5px;line-height:8px;color:#111;">指标10</div><div style="left:223.75px;top:154.75px;width:40px;text-align:center;font-size:6.5px;line-height:8px;color:#111;">指标11</div><div style="left:258.75px;top:122.0px;width:40px;text-align:center;font-size:6.5px;line-height:8px;color:#111;">指标12</div><div style="left:323.25px;top:146.0px;width:20px;text-align:center;font-size:6.5px;line-height:8px;color:#111;">60</div><div style="left:353.25px;top:147.25px;width:20px;text-align:center;font-size:6.5px;line-height:8px;color:#111;">70</div><div style="left:385.0px;top:163.5px;width:20px;text-align:center;font-size:6.5px;line-height:8px;color:#111;">90</div><div style="left:391.25px;top:199.75px;width:20px;text-align:center;font-size:6.5px;line-height:8px;color:#111;">82</div><div style="left:385.5px;top:236.0px;width:20px;text-align:center;font-size:6.5px;line-height:8px;color:#111;">90</div><div style="left:356.25px;top:258.0px;width:20px;text-align:center;font-size:6.5px;line-height:8px;color:#111;">80</div><div style="left:323.25px;top:260.5px;width:20px;text-align:center;font-size:6.5px;line-height:8px;color:#111;">70</div><div style="left:285.0px;top:268.5px;width:20px;text-align:center;font-size:6.5px;line-height:8px;color:#111;">100</div><div style="left:237.5px;top:247.0px;width:20px;text-align:center;font-size:6.5px;line-height:8px;color:#111;">130</div><div style="left:251.25px;top:199.75px;width:20px;text-align:center;font-size:6.5px;line-height:8px;color:#111;">90</div><div style="left:257.5px;top:161.5px;width:20px;text-align:center;font-size:6.5px;line-height:8px;color:#111;">95</div><div style="left:285.0px;top:131.5px;width:20px;text-align:center;font-size:6.5px;line-height:8px;color:#111;">100</div><div style="left:61.6px;top:104.75px;font-size:13.2px;line-height:18px;font-weight:bold;color:#0c2f78;-webkit-text-stroke:0.2px #0c2f78">点击此处添加标题</div><div style="left:61.6px;top:126.6px;font-size:8px;line-height:12px;color:#404040;">标题数字等都可以通过点击和重新输入</div><div style="left:61.6px;top:141.79999999999998px;font-size:8px;line-height:12px;color:#404040;">进行更改，顶部<span style="display:inline-block;width:1em;text-align:right">“</span>开始<span style="display:inline-block;width:1em;text-align:left">”</span>面板中可以对</div><div style="left:61.6px;top:156.5px;font-size:8px;line-height:12px;color:#404040;">字体、字号、进行修改等编辑操作</div><div style="left:61.6px;top:208.4px;font-size:13.2px;line-height:18px;font-weight:bold;color:#0c2f78;-webkit-text-stroke:0.2px #0c2f78">点击此处添加标题</div><div style="left:61.6px;top:230.85px;font-size:8px;line-height:12px;color:#404040;">标题数字等都可以通过点击和重新输入</div><div style="left:61.6px;top:245.6px;font-size:8px;line-height:12px;color:#404040;">进行更改，顶部<span style="display:inline-block;width:1em;text-align:right">“</span>开始<span style="display:inline-block;width:1em;text-align:left">”</span>面板中可以对</div><div style="left:61.6px;top:260.3px;font-size:8px;line-height:12px;color:#404040;">字体、字号、进行修改等编辑操作</div></div><div class="slide" style="left:0px;top:1480px"><div class="vline"></div><svg style="position:absolute;left:7px;top:8px" width="12" height="14" viewBox="0 0 28.6 31.7">
<g fill="#0c347e"><rect x="14.4" y="0" width="6.2" height="2.2"/><rect x="14.4" y="0" width="1.1" height="6.5"/>
<path d="M0 18.2H8V10.4L14.9 5.7 21.9 10.4V18.2H28.6V31.7H17.7V25.8A3 3 0 0 0 11.7 25.8V31.7H0Z"/></g>
<circle cx="14.7" cy="13.5" r="2.9" fill="#fff"/></svg><div class="vtext">Business plan | <b>商业计划书</b></div><div class="pnum">110</div><div class="foot">www.pptgenius.com | 内部资料 禁止外传</div><div class="title">雷达图</div><svg style="position:absolute;left:0;top:0" width="475" height="360"><polygon points="331.75,188.61 337.82,190.23 342.27,194.68 343.89,200.75 342.27,206.82 337.82,211.27 331.75,212.89 325.68,211.27 321.23,206.82 319.61,200.75 321.23,194.68 325.68,190.23" fill="none" stroke="#e8e8e8" stroke-width="0.8"/><polygon points="331.75,176.46 343.89,179.72 352.78,188.61 356.04,200.75 352.78,212.89 343.89,221.78 331.75,225.04 319.61,221.78 310.72,212.89 307.46,200.75 310.72,188.61 319.61,179.72" fill="none" stroke="#e8e8e8" stroke-width="0.8"/><polygon points="331.75,164.32 349.96,169.20 363.30,182.54 368.18,200.75 363.30,218.96 349.96,232.30 331.75,237.18 313.54,232.30 300.20,218.96 295.32,200.75 300.20,182.54 313.54,169.20" fill="none" stroke="#e8e8e8" stroke-width="0.8"/><polygon points="331.75,152.18 356.04,158.69 373.81,176.46 380.32,200.75 373.81,225.04 356.04,242.81 331.75,249.32 307.46,242.81 289.69,225.04 283.18,200.75 289.69,176.46 307.46,158.69" fill="none" stroke="#e8e8e8" stroke-width="0.8"/><polygon points="331.75,140.04 362.11,148.17 384.33,170.39 392.46,200.75 384.33,231.11 362.11,253.33 331.75,261.46 301.39,253.33 279.17,231.11 271.04,200.75 279.17,170.39 301.39,148.17" fill="none" stroke="#e8e8e8" stroke-width="0.8"/><polygon points="331.75,127.89 368.18,137.65 394.85,164.32 404.61,200.75 394.85,237.18 368.18,263.85 331.75,273.61 295.32,263.85 268.65,237.18 258.89,200.75 268.65,164.32 295.32,137.65" fill="none" stroke="#e8e8e8" stroke-width="0.8"/><polygon points="331.75,115.75 374.25,127.14 405.36,158.25 416.75,200.75 405.36,243.25 374.25,274.36 331.75,285.75 289.25,274.36 258.14,243.25 246.75,200.75 258.14,158.25 289.25,127.14" fill="none" stroke="#e8e8e8" stroke-width="0.8"/><line x1="55.7" y1="188" x2="197.7" y2="188" stroke="#e6e6e6" stroke-width="1"/><polygon points="331.75,145.05 367.55,138.74 397.57,162.75 386.25,200.75 382.41,230.00 358.75,247.52 331.75,252.75 305.25,246.65 296.50,221.10 274.55,200.75 296.68,180.50 308.50,160.48" fill="rgba(35,67,143,0.25)" stroke="none"/><polygon points="331.75,140.25 365.40,142.47 376.26,175.05 405.65,200.75 371.59,223.75 352.75,237.12 331.75,250.25 298.75,257.91 282.56,229.15 282.45,200.75 300.14,182.50 306.35,156.76" fill="rgba(91,171,207,0.25)" stroke="#3a9cc0" stroke-width="1"/><polygon points="331.75,145.05 367.55,138.74 397.57,162.75 386.25,200.75 382.41,230.00 358.75,247.52 331.75,252.75 305.25,246.65 296.50,221.10 274.55,200.75 296.68,180.50 308.50,160.48" fill="none" stroke="#0d2f75" stroke-width="1.4"/><rect x="415.5" y="89.7" width="3.8" height="3.8" fill="#d2eaf3" stroke="#3a9cc0" stroke-width="1"/><rect x="415.5" y="103" width="3.8" height="3.8" fill="#c5cfe3" stroke="#0d2f75" stroke-width="1.2"/></svg><div style="left:421.7px;top:86.7px;font-size:8px;line-height:10px;color:#333">系列 1</div><div style="left:421.7px;top:100px;font-size:8px;line-height:10px;color:#333">系列2</div><div style="left:290.2px;top:73.0px;width:80px;text-align:center;font-size:13px;line-height:16px;color:#262626;">双色雷达图</div><div style="left:311.75px;top:100.5px;width:40px;text-align:center;font-size:7px;line-height:9px;color:#333;">指标1</div><div style="left:366.25px;top:120.0px;width:40px;text-align:center;font-size:7px;line-height:9px;color:#333;">指标2</div><div style="left:397.5px;top:151.75px;width:40px;text-align:center;font-size:7px;line-height:9px;color:#333;">指标3</div><div style="left:408.75px;top:196.25px;width:40px;text-align:center;font-size:7px;line-height:9px;color:#333;">指标4</div><div style="left:397.5px;top:239.75px;width:40px;text-align:center;font-size:7px;line-height:9px;color:#333;">指标5</div><div style="left:366.25px;top:271.75px;width:40px;text-align:center;font-size:7px;line-height:9px;color:#333;">指标6</div><div style="left:311.75px;top:290.0px;width:40px;text-align:center;font-size:7px;line-height:9px;color:#333;">指标7</div><div style="left:258.75px;top:271.75px;width:40px;text-align:center;font-size:7px;line-height:9px;color:#333;">指标8</div><div style="left:227.0px;top:239.75px;width:40px;text-align:center;font-size:7px;line-height:9px;color:#333;">指标9</div><div style="left:213.75px;top:196.25px;width:40px;text-align:center;font-size:7px;line-height:9px;color:#333;">指标10</div><div style="left:225.0px;top:151.75px;width:40px;text-align:center;font-size:7px;line-height:9px;color:#333;">指标11</div><div style="left:257.0px;top:120.0px;width:40px;text-align:center;font-size:7px;line-height:9px;color:#333;">指标12</div><div style="left:61.5px;top:105.6px;font-size:13.2px;line-height:18px;font-weight:bold;color:#0c2f78;-webkit-text-stroke:0.2px #0c2f78">点击此处添加标题</div><div style="left:61.5px;top:126.29999999999998px;font-size:8px;line-height:12px;color:#404040;">标题数字等都可以通过点击和重新输入</div><div style="left:61.5px;top:141.0px;font-size:8px;line-height:12px;color:#404040;">进行更改，顶部<span style="display:inline-block;width:1em;text-align:right">“</span>开始<span style="display:inline-block;width:1em;text-align:left">”</span>面板中可以对</div><div style="left:61.5px;top:155.79999999999998px;font-size:8px;line-height:12px;color:#404040;">字体、字号、进行修改等编辑操作</div><div style="left:61.5px;top:207.8px;font-size:13.2px;line-height:18px;font-weight:bold;color:#0c2f78;-webkit-text-stroke:0.2px #0c2f78">点击此处添加标题</div><div style="left:61.5px;top:230.6px;font-size:8px;line-height:12px;color:#404040;">标题数字等都可以通过点击和重新输入</div><div style="left:61.5px;top:245.0px;font-size:8px;line-height:12px;color:#404040;">进行更改，顶部<span style="display:inline-block;width:1em;text-align:right">“</span>开始<span style="display:inline-block;width:1em;text-align:left">”</span>面板中可以对</div><div style="left:61.5px;top:259.3px;font-size:8px;line-height:12px;color:#404040;">字体、字号、进行修改等编辑操作</div></div><div class="slide" style="left:485px;top:1480px"><svg style="position:absolute;left:0;top:0" width="475" height="360" viewBox="0 0 475 360">
<defs>
<radialGradient id="g10a" gradientUnits="userSpaceOnUse" cx="130" cy="230" r="340"><stop offset="0" stop-color="#e2e2e2"/><stop offset="0.6" stop-color="#ebebeb"/><stop offset="1" stop-color="#f8f8f8"/></radialGradient>
<radialGradient id="g10b" gradientUnits="userSpaceOnUse" cx="450" cy="50" r="200"><stop offset="0" stop-color="#fff" stop-opacity="1"/><stop offset="0.5" stop-color="#fff" stop-opacity="0.6"/><stop offset="1" stop-color="#fff" stop-opacity="0"/></radialGradient>
<radialGradient id="g10c" gradientUnits="userSpaceOnUse" cx="400" cy="270" r="150"><stop offset="0" stop-color="#fff" stop-opacity="0.8"/><stop offset="1" stop-color="#fff" stop-opacity="0"/></radialGradient>
<linearGradient id="bl10" gradientUnits="userSpaceOnUse" x1="0" y1="240" x2="300" y2="360">
<stop offset="0" stop-color="#2d63a8"/><stop offset="1" stop-color="#124a92"/></linearGradient>
</defs>
<rect width="475" height="360" fill="url(#g10a)"/>
<filter id="bf10"><feGaussianBlur stdDeviation="0.8"/></filter><g fill="none" stroke="#fff" stroke-opacity="0.55" stroke-width="2.2" filter="url(#bf10)"><circle cx="720" cy="-380" r="440"/><circle cx="720" cy="-380" r="470"/><circle cx="720" cy="-380" r="500"/><circle cx="720" cy="-380" r="530"/><circle cx="720" cy="-380" r="560"/><circle cx="720" cy="-380" r="590"/><circle cx="720" cy="-380" r="620"/><circle cx="720" cy="-380" r="650"/><circle cx="720" cy="-380" r="680"/><circle cx="720" cy="-380" r="710"/><circle cx="720" cy="-380" r="740"/><circle cx="720" cy="-380" r="770"/><circle cx="720" cy="-380" r="800"/><circle cx="720" cy="-380" r="830"/><circle cx="720" cy="-380" r="860"/><circle cx="720" cy="-380" r="890"/><circle cx="720" cy="-380" r="920"/><circle cx="720" cy="-380" r="950"/><circle cx="720" cy="-380" r="980"/><circle cx="720" cy="-380" r="1010"/><circle cx="720" cy="-380" r="1040"/></g>
<rect width="475" height="360" fill="url(#g10b)"/>
<rect width="475" height="360" fill="url(#g10c)"/>
<path d="M0 203 C50 218 110 236 200 250 C280 262 380 290 475 300 L475 360 L0 360Z" fill="#fafafa"/>
<path d="M0 227 C40 248 70 266 109 282 C150 298 180 314 220 326 C260 338 290 343 320 345 L262 360 L0 360Z" fill="#e2e2e2"/>
<path d="M0 243 C40 262 60 277 109 295 C140 306 175 322 210 333 C245 343 280 346 311 346 C300 349 285 352 260 360 L0 360Z" fill="#fff"/>
<path d="M0 244.5 C40 263 60 278 109 296.5 C140 307.5 175 323.5 210 334.5 C245 344 275 346.5 310 346.5 L287 351 C275 354 262 357 252 360 L0 360Z" fill="url(#bl10)"/>
<path d="M255 360 C290 350 330 340 370 326.5 C400 316 430 300 475 277 L475 360Z" fill="#3c3c3c"/>
</svg><svg style="position:absolute;left:426.2px;top:21px" width="28.6" height="31.7" viewBox="0 0 28.6 31.7">
<g fill="#10449c"><rect x="14.4" y="0" width="6.2" height="3"/><rect x="14.4" y="0" width="1.1" height="6.5"/>
<path d="M0 18.2H8V10.4L14.9 5.7 21.9 10.4V18.2H28.6V31.7H17.7V25.8A3 3 0 0 0 11.7 25.8V31.7H0Z"/></g>
<circle cx="14.7" cy="13.5" r="2.9" fill="#fff"/></svg><div style="left:76.25px;top:115.5px;width:58.75px;height:57.75px;background:#03468f"></div><div style="left:76.25px;top:115.5px;width:58.75px;height:57.75px;text-align:center;font-size:44px;line-height:57.75px;font-weight:bold;color:#fff">10</div><div style="left:149.5px;top:116px;font-size:31.5px;line-height:40px;font-weight:bold;color:#10409a;-webkit-text-stroke:0.8px #10409a">资金的退出</div><div style="left:151px;top:162px;width:238.4px;height:1px;background:#333"></div><div style="left:151px;top:175px;font-size:11.9px;line-height:17.4px;color:#222">主要告诉投资者如何收回投资，什么时间收回<br>投资，大约有多少回报率等情况。</div><div style="left:6.7px;top:343px;font-size:7.5px;line-height:10px;font-weight:bold;color:#fff">111</div><div style="left:26.7px;top:343.5px;font-size:6px;line-height:9px;color:#fff">Business plan | <b>商业计划书</b></div><div style="right:16px;top:343.5px;font-size:5.6px;line-height:9px;color:#aaa">www.pptgenius.com | 内部资料 禁止外传</div></div></body></html>
